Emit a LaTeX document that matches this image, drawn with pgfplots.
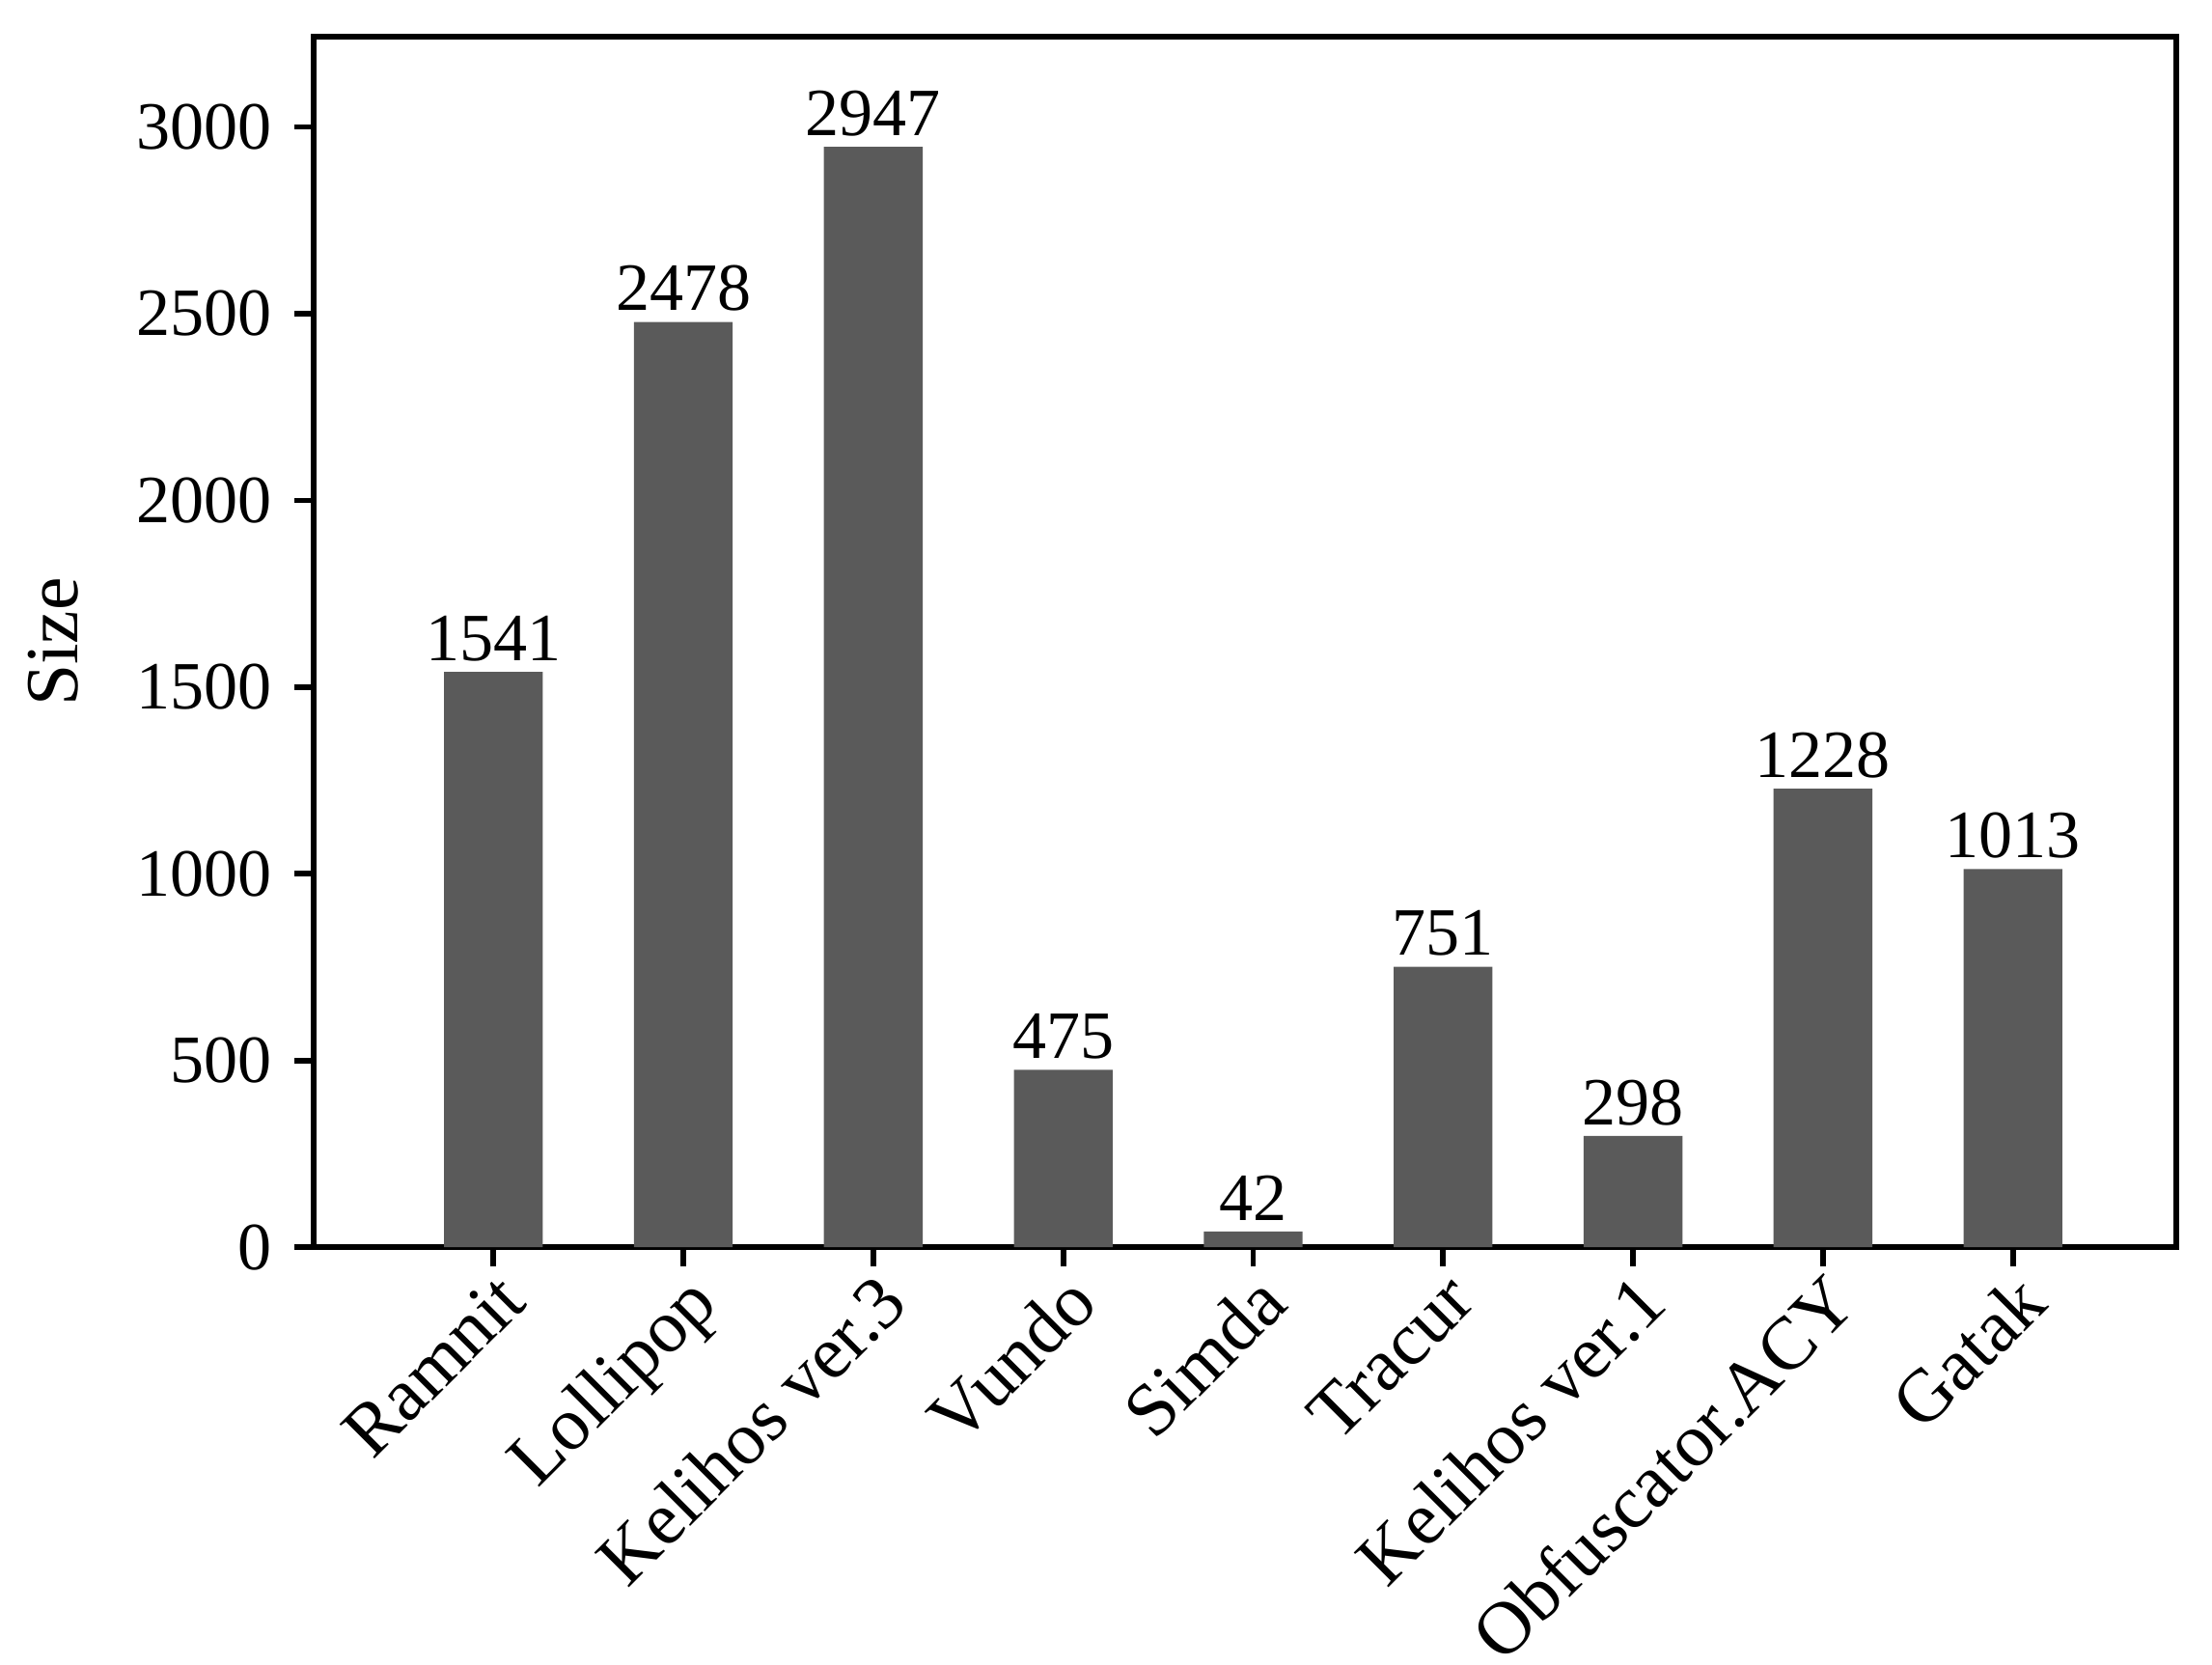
\documentclass[border=0pt]{standalone}
\usepackage{fontspec}
\setmainfont{Liberation Serif}
\usepackage{pgfplots}
\pgfplotsset{compat=1.18}
\usetikzlibrary{calc}
\definecolor{barcol}{RGB}{90,90,90}
\begin{document}
\begin{tikzpicture}
\begin{axis}[
 name=ax,
 scale only axis,
 width=385.6pt, height=250.6pt,
 xmin=-0.945, xmax=8.86,
 ymin=0, ymax=3242,
 ybar, bar width=0.52,
 xtick={0,...,8},
 xticklabels={Ramnit,Lollipop,Kelihos ver.3,Vundo,Simda,Tracur,Kelihos ver.1,Obfuscator.ACY,Gatak},
 ytick={0,500,...,3000},
 minor tick num=0,
 tick pos=left,
 tick align=outside,
 major tick length=4pt,
 tick style={line width=1.15pt, black},
 axis line style={line width=1.15pt, black},
 yticklabel style={font=\fontsize{14}{16}\selectfont, inner sep=4.5pt},
 label style={font=\fontsize{15.5}{18}\selectfont},
 /pgf/number format/assume math mode=true,
 /pgf/number format/1000 sep={},
 xticklabel style={font=\fontsize{15.5}{18}\selectfont, rotate=45, anchor=north east, inner sep=0.3pt},
 ylabel={Size},
 ylabel style={at={(axis description cs:-0.140,0.5)}, anchor=center},
 nodes near coords,
 every node near coord/.append style={font=\fontsize{14}{16}\selectfont, black, inner sep=2pt, anchor=south},
]
\addplot[fill=barcol, draw=none] coordinates {(0,1541) (1,2478) (2,2947) (3,475) (4,42) (5,751) (6,298) (7,1228) (8,1013)};
\end{axis}
\pgfresetboundingbox
\path[use as bounding box] ($(ax.south west)+(-65pt,-86.4pt)$) rectangle ($(ax.north east)+(7.4pt,7.6pt)$);
\end{tikzpicture}
\end{document}
